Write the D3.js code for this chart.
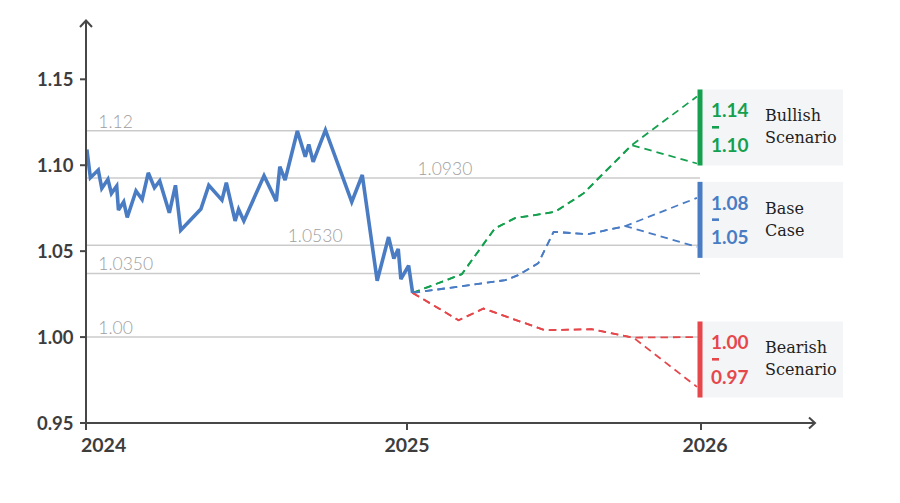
<!DOCTYPE html>
<html><head><meta charset="utf-8">
<script src="https://cdn.jsdelivr.net/npm/d3@7"></script>
<style>body{margin:0;background:#fff} svg{display:block}</style>
</head><body><svg id="c" width="900" height="503"></svg>
<script>
// ---------- data ----------
const yTicks = [0.95, 1.00, 1.05, 1.10, 1.15];
const yTickLabels = ["0.95", "1.00", "1.05", "1.10", "1.15"];
const xTickDates = ["2024-01-01", "2025-01-01", "2026-01-01"];
const xTickLabels = ["2024", "2025", "2026"];

const gridLevels = [1.12, 1.0925, 1.0535, 1.037, 1.00];
const gridLabels = ["1.12", "1.0930", "1.0530", "1.0350", "1.00"];
const gridLabelDates = ["2024-01-15", "2025-01-14", "2024-08-18", "2024-01-15", "2024-01-15"];

const histDates = ["2024-01-02","2024-01-06","2024-01-15","2024-01-19","2024-01-26","2024-01-30","2024-02-05","2024-02-07",
  "2024-02-13","2024-02-17","2024-02-27","2024-03-05","2024-03-12","2024-03-19","2024-03-25","2024-04-05","2024-04-12",
  "2024-04-18","2024-05-11","2024-05-20","2024-06-04","2024-06-09","2024-06-19","2024-06-23","2024-06-29","2024-07-22",
  "2024-08-05","2024-08-09","2024-08-15","2024-08-29","2024-09-07","2024-09-11","2024-09-16","2024-09-30","2024-10-30",
  "2024-11-11","2024-11-28","2024-12-11","2024-12-17","2024-12-22","2024-12-25","2025-01-03","2025-01-08"];
const histValues = [1.1092,1.0927,1.0972,1.0865,1.0918,1.0836,1.0879,1.0739,
  1.0787,1.0696,1.0851,1.0801,1.0956,1.0869,1.0909,1.0723,1.0883,
  1.0622,1.0745,1.0883,1.0797,1.0898,1.0676,1.0743,1.0676,1.0939,
  1.0791,1.0991,1.0914,1.1199,1.1049,1.1121,1.1020,1.1205,1.0787,
  1.0943,1.0328,1.0582,1.0457,1.0513,1.0337,1.0416,1.0257];

const bullDates = ["2025-01-08","2025-03-10","2025-04-20","2025-05-15","2025-07-04","2025-08-08","2025-10-07"];
const bullValues = [1.0257,1.0366,1.0632,1.0692,1.0729,1.0836,1.1117];
const baseDates = ["2025-01-08","2025-05-03","2025-05-19","2025-06-13","2025-07-02","2025-08-14","2025-09-29"];
const baseValues = [1.0257,1.0331,1.0360,1.0430,1.0612,1.0599,1.0646];
const bearDates = ["2025-01-08","2025-03-06","2025-04-06","2025-06-21","2025-08-18","2025-10-09"];
const bearValues = [1.0257,1.0098,1.0166,1.0040,1.0046,0.9997];
const forecastEndDate = "2025-12-27";

const scenarioLine1 = ["Bullish", "Base", "Bearish"];
const scenarioLine2 = ["Scenario", "Case", "Scenario"];
const scenarioHighLabels = ["1.14", "1.08", "1.00"];
const scenarioLowLabels = ["1.10", "1.05", "0.97"];
const scenarioHighEnd = [1.140, 1.081, 1.000];
const scenarioLowEnd = [1.101, 1.0525, 0.971];
const scenarioColors = ["#14a04e", "#4a7cc4", "#e5474b"];

// ---------- drawing ----------
const parse = d3.timeParse("%Y-%m-%d");
const svg = d3.select("#c");
const x = d3.scaleTime()
  .domain(xTickDates.map(parse))
  .range([86, 407, 701]);
const y = d3.scaleLinear().domain([0.95, 1.15]).range([423, 79.3]);

const sansBold = "Lato, 'Open Sans', sans-serif";
const axisColor = "#474747";

// gridlines
svg.append("g").selectAll("line").data(gridLevels).join("line")
  .attr("x1", x(parse(xTickDates[0]))).attr("x2", 700)
  .attr("y1", d => y(d)).attr("y2", d => y(d))
  .attr("stroke", "#cbcbcb").attr("stroke-width", 1.5);

svg.append("g").selectAll("text").data(gridLevels).join("text")
  .attr("x", (d, i) => x(parse(gridLabelDates[i])))
  .attr("y", d => y(d) - 3)
  .attr("font-family", sansBold).attr("font-weight", 300)
  .attr("font-size", 17.5).attr("fill", "#9e9e9e")
  .text((d, i) => gridLabels[i]);

// scenario boxes
const boxG = svg.append("g");
scenarioLine1.forEach((name, i) => {
  const cy = y((scenarioHighEnd[i] + scenarioLowEnd[i]) / 2) - 2.5;
  const top = cy - 38;
  const g = boxG.append("g");
  g.append("rect").attr("x", 700).attr("y", top).attr("width", 143).attr("height", 76)
    .attr("fill", "#f4f5f7");
  g.append("rect").attr("x", 697.5).attr("y", top).attr("width", 5).attr("height", 76)
    .attr("fill", scenarioColors[i]);
  const nx = 711;
  g.append("text").attr("x", nx).attr("y", cy - 10)
    .attr("font-family", sansBold).attr("font-weight", 700).attr("font-size", 19)
    .attr("fill", scenarioColors[i]).text(scenarioHighLabels[i]);
  g.append("rect").attr("x", nx + 1).attr("y", cy - 1.5).attr("width", 7).attr("height", 2.6)
    .attr("fill", scenarioColors[i]);
  g.append("text").attr("x", nx).attr("y", cy + 24.5)
    .attr("font-family", sansBold).attr("font-weight", 700).attr("font-size", 19)
    .attr("fill", scenarioColors[i]).text(scenarioLowLabels[i]);
  g.append("text").attr("x", 765).attr("y", cy - 6)
    .attr("font-family", "'DejaVu Serif', serif").attr("font-size", 16)
    .attr("fill", "#1f1f1f").text(name);
  g.append("text").attr("x", 765).attr("y", cy + 16)
    .attr("font-family", "'DejaVu Serif', serif").attr("font-size", 16)
    .attr("fill", "#1f1f1f").text(scenarioLine2[i]);
});

// forecast dashed lines
const line = d3.line().x(d => x(d[0])).y(d => y(d[1]));
const forecasts = [[bullDates, bullValues], [baseDates, baseValues], [bearDates, bearValues]];
forecasts.forEach(([ds, vs], i) => {
  const pts = ds.map((d, k) => [parse(d), vs[k]]);
  const end = parse(forecastEndDate);
  [scenarioHighEnd[i], scenarioLowEnd[i]].forEach(v => {
    svg.append("path").datum(pts.concat([[end, v]]))
      .attr("d", line).attr("fill", "none")
      .attr("stroke", scenarioColors[i]).attr("stroke-width", 1.8)
      .attr("stroke-dasharray", "7.5,5");
  });
});

// historical line
svg.append("path")
  .datum(histDates.map((d, i) => [parse(d), histValues[i]]))
  .attr("d", line).attr("fill", "none")
  .attr("stroke", "#4a7cc4").attr("stroke-width", 3.6)
  .attr("stroke-linejoin", "miter").attr("stroke-miterlimit", 3);

// axes
const x0 = x(parse(xTickDates[0]));
const yb = y(0.95);
const ax = svg.append("g").attr("stroke", axisColor).attr("fill", "none").attr("stroke-width", 2);
ax.append("line").attr("x1", x0).attr("x2", x0).attr("y1", 20).attr("y2", yb + 1);
ax.append("path").attr("d", `M${x0 - 6},${27} L${x0},${20.5} L${x0 + 6},${27}`);
ax.append("line").attr("x1", x0 - 1).attr("x2", 815).attr("y1", yb).attr("y2", yb);
ax.append("path").attr("d", `M809,${yb - 5.5} L815,${yb} L809,${yb + 5.5}`);

// y ticks
const yt = svg.append("g");
yt.selectAll("line").data(yTicks).join("line")
  .attr("x1", x0 - 6).attr("x2", x0).attr("y1", d => y(d)).attr("y2", d => y(d))
  .attr("stroke", axisColor).attr("stroke-width", 2);
yt.selectAll("text").data(yTicks).join("text")
  .attr("x", 37).attr("y", d => y(d)).attr("dy", "0.36em")
  .attr("font-family", sansBold).attr("font-weight", 700).attr("font-size", 18.5)
  .attr("fill", "#3d3d3d")
  .text((d, i) => yTickLabels[i]);

// x ticks
const xt = svg.append("g");
xt.selectAll("line").data(xTickDates).join("line")
  .attr("x1", d => x(parse(d))).attr("x2", d => x(parse(d)))
  .attr("y1", yb).attr("y2", yb + 7)
  .attr("stroke", axisColor).attr("stroke-width", 2);
xt.selectAll("text").data(xTickDates).join("text")
  .attr("x", (d, i) => i === 0 ? x(parse(d)) - 5 : x(parse(d)) + (i === 2 ? 4 : 0))
  .attr("y", yb + 29)
  .attr("text-anchor", (d, i) => i === 0 ? "start" : "middle")
  .attr("font-family", sansBold).attr("font-weight", 700).attr("font-size", 19.5)
  .attr("fill", "#3d3d3d")
  .text((d, i) => xTickLabels[i]);
</script>
</body></html>
